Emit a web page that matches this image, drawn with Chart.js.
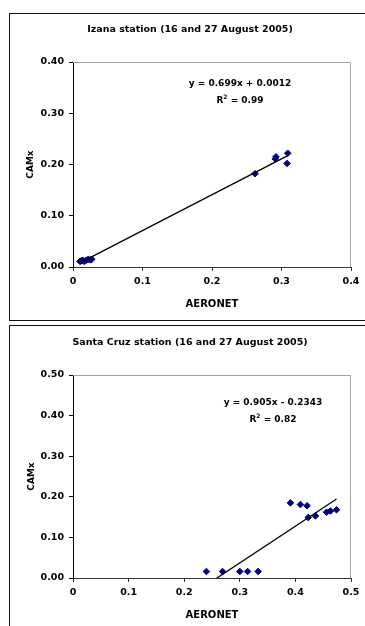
<!DOCTYPE html>
<html>
<head>
<meta charset="utf-8">
<script src="https://cdn.jsdelivr.net/npm/chart.js@4/dist/chart.umd.min.js"></script>
<style>
  html, body { margin: 0; padding: 0; background: #fff; overflow: hidden; }
  body { width: 365px; height: 626px; position: relative; }
  .box { position: absolute; border: 1px solid #111; box-sizing: border-box; }
  .wrap { position: absolute; left: 0; width: 365px; }
</style>
</head>
<body>
<div class="box" style="left:9px; top:13px; width:380px; height:308px;"></div>
<div class="box" style="left:9px; top:325px; width:380px; height:320px;"></div>
<div class="wrap" style="top:0; height:320px;"><canvas id="c1" width="365" height="320"></canvas></div>
<div class="wrap" style="top:320px; height:306px;"><canvas id="c2" width="365" height="306"></canvas></div>
<script>
// ---- Izana station data (AERONET vs CAMx) ----
const izanaTitle = 'Izana station (16 and 27 August 2005)';
const izanaX = [0.010, 0.012, 0.014, 0.016, 0.019, 0.022, 0.025, 0.027, 0.262, 0.291, 0.292, 0.309, 0.308];
const izanaY = [0.011, 0.012, 0.013, 0.011, 0.013, 0.015, 0.014, 0.015, 0.182, 0.211, 0.215, 0.222, 0.202];
const izanaSlope = 0.699, izanaIntercept = 0.0012;
const izanaEq = 'y = 0.699x + 0.0012', izanaR2 = '0.99';
const izanaXTicks = [0, 0.1, 0.2, 0.3, 0.4];
const izanaYTicks = [0, 0.1, 0.2, 0.3, 0.4];

// ---- Santa Cruz station data ----
const santaTitle = 'Santa Cruz station (16 and 27 August 2005)';
const santaX = [0.240, 0.269, 0.300, 0.314, 0.333, 0.391, 0.409, 0.421, 0.423, 0.436, 0.456, 0.463, 0.474];
const santaY = [0.016, 0.016, 0.016, 0.016, 0.016, 0.185, 0.181, 0.178, 0.149, 0.153, 0.162, 0.165, 0.168];
const santaSlope = 0.905, santaIntercept = -0.2343;
const santaEq = 'y = 0.905x - 0.2343', santaR2 = '0.82';
const santaXTicks = [0, 0.1, 0.2, 0.3, 0.4, 0.5];
const santaYTicks = [0, 0.1, 0.2, 0.3, 0.4, 0.5];

const axisTitleX = 'AERONET', axisTitleY = 'CAMx';
const FONT = "'DejaVu Sans', sans-serif";

function makeChart(id, cfg) {
  const pts = cfg.x.map((v, i) => ({ x: v, y: cfg.y[i] }));
  const xmin = Math.min(...cfg.x), xmax = Math.max(...cfg.x);
  const trend = [xmin, xmax].map(v => ({ x: v, y: cfg.slope * v + cfg.intercept }));
  const textPlugin = {
    id: 'texts' + id,
    beforeDatasetsDraw(chart) {
      const { ctx, chartArea: a } = chart;
      ctx.save();
      ctx.strokeStyle = '#a0a0a0';
      ctx.lineWidth = 1;
      ctx.beginPath();
      ctx.moveTo(a.left, a.top + 0.5);
      ctx.lineTo(a.right - 0.5, a.top + 0.5);
      ctx.lineTo(a.right - 0.5, a.bottom);
      ctx.stroke();
      ctx.restore();
    },
    afterDraw(chart) {
      const ctx = chart.ctx;
      ctx.save();
      ctx.fillStyle = '#000';
      ctx.textAlign = 'center';
      ctx.textBaseline = 'middle';
      ctx.font = 'bold 9.5px ' + FONT;
      ctx.fillText(cfg.title, cfg.titlePos[0], cfg.titlePos[1]);
      ctx.font = 'bold 9px ' + FONT;
      ctx.fillText(cfg.eq, cfg.eqPos[0], cfg.eqPos[1]);
      // R^2 line
      const rest = ' = ' + cfg.r2;
      const wR = ctx.measureText('R').width;
      ctx.font = 'bold 6px ' + FONT;
      const w2 = ctx.measureText('2').width;
      ctx.font = 'bold 9px ' + FONT;
      const wRest = ctx.measureText(rest).width;
      const total = wR + w2 + wRest;
      let x0 = cfg.eqPos[0] - total / 2;
      const y1 = cfg.eqPos[1] + 17;
      ctx.textAlign = 'left';
      ctx.fillText('R', x0, y1);
      ctx.font = 'bold 6px ' + FONT;
      ctx.fillText('2', x0 + wR, y1 - 4);
      ctx.font = 'bold 9px ' + FONT;
      ctx.fillText(rest, x0 + wR + w2, y1);
      ctx.restore();
    }
  };
  return new Chart(document.getElementById(id), {
    type: 'scatter',
    data: {
      datasets: [
        {
          type: 'line', data: trend, borderColor: '#000', borderWidth: 1.3,
          pointRadius: 0, fill: false, tension: 0, order: 0
        },
        {
          data: pts, pointStyle: 'rectRot', pointRadius: 3.3, pointHoverRadius: 3.3,
          backgroundColor: '#000080', borderColor: '#000080', borderWidth: 1, order: 1
        }
      ]
    },
    options: {
      responsive: false, animation: false, devicePixelRatio: 1,
      layout: { padding: cfg.padding },
      plugins: { legend: { display: false }, tooltip: { enabled: false }, title: { display: false } },
      scales: {
        x: {
          type: 'linear', min: cfg.xTicks[0], max: cfg.xTicks[cfg.xTicks.length - 1],
          afterBuildTicks: s => { s.ticks = cfg.xTicks.map(v => ({ value: v })); },
          afterFit: s => { s.height = cfg.xHeight; },
          ticks: {
            color: '#000', font: { family: FONT, size: 9.5, weight: 'bold' }, padding: 5,
            maxRotation: 0, autoSkip: false,
            callback: v => (v === 0 ? '0' : v.toFixed(1))
          },
          grid: { display: true, drawOnChartArea: false, drawTicks: true, tickLength: 4, color: '#333' },
          border: { display: true, color: '#333', width: 1 },
          title: {
            display: true, text: axisTitleX, color: '#000',
            font: { family: FONT, size: 10, weight: 'bold' }, padding: { top: 0, bottom: cfg.xTitlePad }
          }
        },
        y: {
          type: 'linear', min: cfg.yTicks[0], max: cfg.yTicks[cfg.yTicks.length - 1],
          afterBuildTicks: s => { s.ticks = cfg.yTicks.map(v => ({ value: v })); },
          afterFit: s => { s.width = 73; },
          ticks: {
            color: '#000', font: { family: FONT, size: 9.5, weight: 'bold' }, padding: 5,
            autoSkip: false, callback: v => v.toFixed(2)
          },
          grid: { display: true, drawOnChartArea: false, drawTicks: true, tickLength: 4, color: '#000' },
          border: { display: true, color: '#000', width: 1 },
          title: {
            display: true, text: axisTitleY, color: '#000',
            font: { family: FONT, size: 9, weight: 'bold' }, padding: { top: cfg.yTitlePad, bottom: 0 }
          }
        }
      }
    },
    plugins: [textPlugin]
  });
}

makeChart('c1', {
  x: izanaX, y: izanaY, slope: izanaSlope, intercept: izanaIntercept,
  title: izanaTitle, eq: izanaEq, r2: izanaR2, xTicks: izanaXTicks, yTicks: izanaYTicks,
  padding: { left: 0, top: 62, right: 14, bottom: 0 }, xHeight: 53,
  xTitlePad: 10, yTitlePad: 25, titlePos: [190, 30], eqPos: [240, 84]
});
makeChart('c2', {
  x: santaX, y: santaY, slope: santaSlope, intercept: santaIntercept,
  title: santaTitle, eq: santaEq, r2: santaR2, xTicks: santaXTicks, yTicks: santaYTicks,
  padding: { left: 0, top: 55, right: 14, bottom: 0 }, xHeight: 48,
  xTitlePad: 5, yTitlePad: 26, titlePos: [190, 23], eqPos: [273, 83]
});
</script>
</body>
</html>
